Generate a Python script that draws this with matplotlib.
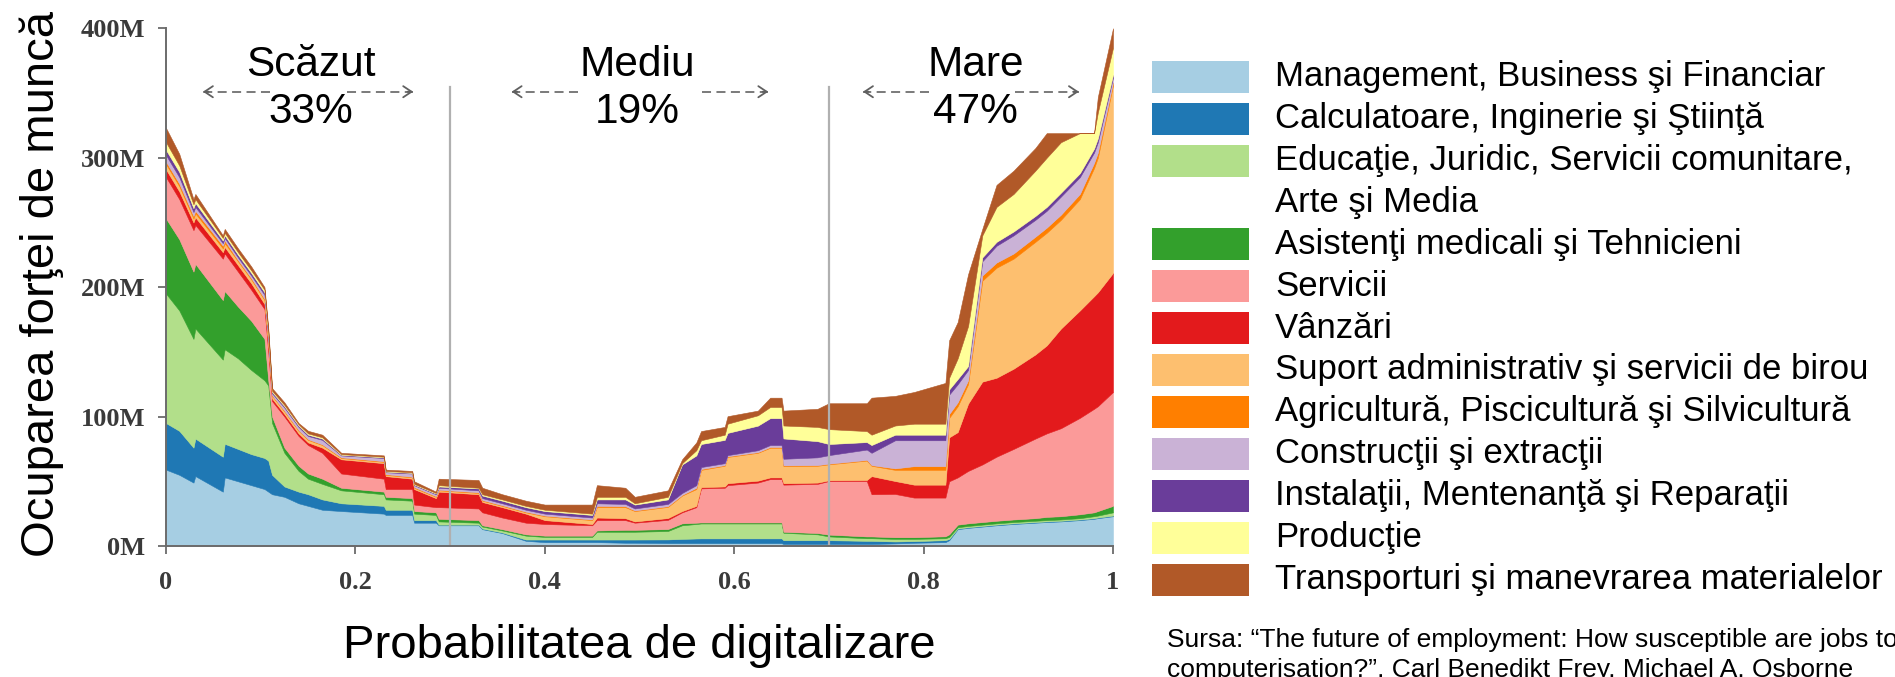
import matplotlib
matplotlib.use("Agg")
import matplotlib.pyplot as plt
from matplotlib.patches import Rectangle
import numpy as np

# ---------------- data (cumulative upper boundary of each stacked layer, in millions) ----------------
x = [0.000, 0.014, 0.029, 0.031, 0.060, 0.062, 0.076, 0.090, 0.104, 0.108, 0.112, 0.125, 0.140, 0.150,
     0.165, 0.185, 0.230, 0.232, 0.260, 0.262, 0.285, 0.288, 0.330, 0.334, 0.355, 0.380, 0.400, 0.450,
     0.455, 0.485, 0.495, 0.530, 0.545, 0.560, 0.565, 0.590, 0.593, 0.625, 0.638, 0.650, 0.652, 0.688,
     0.700, 0.740, 0.745, 0.770, 0.790, 0.823, 0.827, 0.836, 0.847, 0.862, 0.877, 0.895, 0.918, 0.930,
     0.945, 0.965, 0.980, 0.984, 1.000]

top_management = [59, 55, 49, 54, 42, 53, 50, 47, 44, 42, 40, 38, 33, 31, 28, 27, 25, 24, 24, 18, 18, 16, 16, 13,
                  10, 4, 3, 3, 3, 2.5, 2.5, 2.2, 2.2, 2.2, 2.2, 2.2, 2.2, 2.2, 2.2, 2.2, 1.6, 1.6, 1.6, 1.6, 1.6,
                  2, 2.5, 3, 4.5, 13, 14, 15, 16, 17, 18, 18.5, 19, 20, 21, 21.5, 23]
top_computer = [95, 89, 76, 83, 69, 79, 75, 71, 68, 66, 55, 46, 42, 40, 36, 33, 31, 28, 28, 20, 20, 16.5, 16.5,
                13.5, 10.5, 5, 5, 5, 5, 5, 5, 5.1, 5.5, 5.8, 5.9, 5.9, 5.9, 5.9, 5.9, 5.9, 4.5, 4.5, 4.5, 4, 4,
                3.5, 3.8, 4.5, 5.5, 13.5, 14.5, 15.5, 16.5, 17.5, 18.5, 19, 19.5, 20.5, 21.5, 22, 23.5]
top_education = [195, 182, 160, 168, 144, 152, 145, 136, 128, 124, 95, 72, 58, 52, 48, 43, 40, 36, 35, 25, 24, 19,
                 18, 15, 12, 8, 7, 7, 11, 11, 11, 11.6, 16, 17, 17.4, 17.4, 17.4, 17.4, 17.4, 17.4, 10.2, 9, 7.4,
                 6, 6, 5.5, 5.5, 6, 7, 14.5, 15.5, 16.5, 17.5, 18.5, 19.5, 20, 20.5, 21.5, 23, 23.5, 26]
top_health = [253, 237, 212, 218, 190, 197, 185, 174, 160, 128, 100, 76, 62, 56, 52, 45, 42, 38, 37, 27, 26, 21, 20,
              16, 13, 9, 8, 8, 12, 12.5, 12.5, 13.1, 17.5, 18, 18.2, 18.2, 18.2, 18.2, 18.2, 18.2, 11, 10, 8.8, 7.4,
              7.4, 6.8, 6.8, 7.5, 9, 16.5, 17.5, 18.5, 19.5, 20.5, 21.5, 22.5, 23, 24.5, 26, 27, 31]
top_service = [285, 268, 244, 248, 222, 226, 212, 198, 183, 150, 112, 100, 85, 78, 72, 56, 52, 44, 44, 32, 30, 30,
               29, 26, 22, 18, 17, 16, 20, 20, 18, 20.2, 26, 30, 44.5, 45, 47, 49, 51.7, 51.7, 47.4, 48, 50.2, 50.2,
               40, 40.2, 37.4, 37.4, 50, 53, 58, 63, 69, 75, 83, 87, 91, 99, 106, 108, 119]
top_sales = [291, 274, 250, 254, 227, 231, 217, 203, 187, 155, 114, 102, 87, 80, 76, 67, 64, 54, 52, 44, 37, 42, 40,
             34, 30, 25, 20, 17, 22, 21.5, 19, 21.6, 27, 31, 45.5, 46, 48.5, 50.5, 53, 53, 48.5, 49, 50.8, 51, 54,
             50.2, 47.4, 47.4, 84, 88, 110, 127, 130, 137, 148, 155, 168, 182, 193, 196, 211]
top_office = [295, 278, 253, 257, 230, 234, 220, 206, 190, 158, 116, 104, 89, 82, 78, 68, 65, 55, 53, 45, 38, 43,
              41, 35, 31, 26, 23, 20, 30, 30, 27, 30.2, 39, 44, 58.8, 62, 68.8, 72, 75.9, 75.9, 61.7, 62, 63.1, 66,
              62, 58.8, 58.8, 58.8, 99, 108, 125, 205, 215, 222, 235, 242, 252, 268, 292, 300, 356]
top_farming = [297, 280, 255, 259, 232, 236, 221, 207, 191, 159, 116.5, 104.5, 89.5, 82.5, 78.5, 68.5, 65.5, 55.5,
               53.5, 45.5, 38.5, 43.5, 41.5, 35.5, 31.5, 26.5, 23.5, 20.5, 31, 30.8, 27.5, 30.8, 39.5, 45, 59.5,
               62.5, 69.3, 72.5, 76.5, 76.5, 62.3, 62.5, 63.6, 66.5, 62.5, 60, 61.7, 61.7, 102, 111, 128, 209, 219,
               226, 239, 246, 256, 272, 296, 304, 358]
top_construction = [302, 285, 258, 262, 234, 238, 223, 209, 194, 162, 118, 107, 92, 85, 82, 70, 68, 57, 56, 47, 40,
                    45, 43, 37, 33, 28, 25, 22, 33, 32.5, 29, 32.5, 41, 47, 61, 64, 70.2, 74, 78, 78, 67.4, 68.5,
                    70.2, 74.5, 72, 81.7, 81.7, 81.7, 117, 125, 136, 220, 232, 240, 252, 259, 270, 285, 304, 312, 362]
top_installation = [306, 289, 261, 265, 236, 240, 225, 211, 196, 164, 119, 108, 93, 86, 83, 70.5, 68.5, 57.5, 56.5,
                    47.5, 40.5, 46, 44.5, 39, 35, 30, 27, 24, 36, 36, 32, 36, 63, 70, 78.8, 82, 87.4, 93, 98.8,
                    98.8, 83.1, 81, 78.8, 80.3, 78, 86, 86, 86, 121, 129, 139, 223, 235, 243, 255, 262, 273, 288,
                    307, 315, 364]
top_production = [312, 294, 264, 268, 238, 242, 227, 213, 198, 166, 120, 109, 94, 87, 84, 71, 69, 58, 57, 48, 41,
                  47, 45, 40, 36, 31, 28, 25, 38, 38, 33, 38, 64, 74, 81.7, 86, 94.5, 101, 107.4, 107.4, 93.1, 92,
                  90.3, 88.8, 86, 93.1, 94.5, 94.5, 130, 145, 170, 240, 262, 272, 290, 300, 312, 319, 319, 335, 385]
top_transport = [323, 303, 268, 272, 240, 245, 230, 216, 200, 168, 122, 111, 95, 89, 86, 72, 70, 59, 58, 50, 42,
                 52, 51, 45, 40, 35, 32, 32, 47, 45, 38, 43, 67, 80, 88.8, 92, 100.3, 104.6, 114.6, 114.6, 104.6,
                 106, 110.3, 110.3, 114.6, 116, 119, 126, 159, 173, 210, 245, 279, 290, 307.5, 319, 319, 319, 319,
                 347, 400]

categories = ["Management, Business şi Financiar",
              "Calculatoare, Inginerie şi Ştiinţă",
              "Educaţie, Juridic, Servicii comunitare,\nArte şi Media",
              "Asistenţi medicali şi Tehnicieni",
              "Servicii",
              "Vânzări",
              "Suport administrativ şi servicii de birou",
              "Agricultură, Piscicultură şi Silvicultură",
              "Construcţii şi extracţii",
              "Instalaţii, Mentenanţă şi Reparaţii",
              "Producţie",
              "Transporturi şi manevrarea materialelor"]
colors = ["#a6cee3", "#1f78b4", "#b2df8a", "#33a02c", "#fb9a99", "#e31a1c",
          "#fdbf6f", "#ff7f00", "#cab2d6", "#6a3d9a", "#ffff99", "#b15928"]

zone_labels = ["Scăzut", "Mediu", "Mare"]
zone_shares = ["33%", "19%", "47%"]
zone_bounds = [0.3, 0.7]
x_ticks = [0, 0.2, 0.4, 0.6, 0.8, 1]
x_tick_labels = ["0", "0.2", "0.4", "0.6", "0.8", "1"]
y_ticks = [0, 100, 200, 300, 400]
y_tick_labels = ["0M", "100M", "200M", "300M", "400M"]

# ---------------- figure ----------------
W, H = 1895, 677
fig = plt.figure(figsize=(W / 100, H / 100), dpi=100)
fig.patch.set_facecolor("white")


def fx(px):
    return px / W


def fy(py):
    return 1 - py / H


ax = fig.add_axes([fx(166), fy(546), fx(1113) - fx(166), fy(28.3) - fy(546)])

layers = [top_management, top_computer, top_education, top_health, top_service, top_sales,
          top_office, top_farming, top_construction, top_installation, top_production, top_transport]
lower = np.zeros(len(x))
for vals, col in zip(layers, colors):
    upper = np.asarray(vals, dtype=float)
    ax.fill_between(x, lower, upper, facecolor=col, edgecolor=col, linewidth=0.4, zorder=1)
    lower = upper

ax.set_xlim(0, 1)
ax.set_ylim(0, 400)
for s in ["top", "right"]:
    ax.spines[s].set_visible(False)
for s in ["left", "bottom"]:
    ax.spines[s].set_color("#6b6b6b")
    ax.spines[s].set_linewidth(1.4)
ax.set_xticks(x_ticks)
ax.set_xticklabels(x_tick_labels)
ax.set_yticks(y_ticks)
ax.set_yticklabels(y_tick_labels)
ax.tick_params(direction="out", length=6, width=1.3, color="#6b6b6b", labelcolor="#3a3a3a",
               labelsize=19)
ax.tick_params(axis="x", pad=12)
ax.tick_params(axis="y", pad=9)
for lab in ax.get_xticklabels() + ax.get_yticklabels():
    lab.set_family("Liberation Serif")
    lab.set_fontweight("bold")

# zone separators
for b in zone_bounds:
    ax.plot([b, b], [0, 355], color="#b0b0b0", lw=1.6, zorder=2)

# zone labels and arrows
zone_text_x = [0.153, 0.498, 0.855]
arrow_spans = [((0.110, 0.039), (0.191, 0.261)),
               ((0.435, 0.365), (0.566, 0.636)),
               ((0.806, 0.736), (0.897, 0.964))]
for lab, share, tx, spans in zip(zone_labels, zone_shares, zone_text_x, arrow_spans):
    ax.text(tx, 372, lab, ha="center", va="center", fontsize=30.5, family="Liberation Sans", zorder=4)
    ax.text(tx, 335, share, ha="center", va="center", fontsize=30.5, family="Liberation Sans", zorder=4)
    for tail, head in spans:
        ax.plot([tail, head], [351, 351], color="#707070", lw=1.3, ls=(0, (5, 3)), zorder=3)
        step = 0.006 if head < tail else -0.006
        ax.annotate("", xy=(head, 351), xytext=(head + step, 351),
                    arrowprops=dict(arrowstyle="->,head_length=0.6,head_width=0.4",
                                    color="#606060", lw=1.3, shrinkA=0, shrinkB=0), zorder=3)

# axis titles
fig.text(fx(639.5), fy(646), "Probabilitatea de digitalizare", ha="center", va="center",
         fontsize=34, family="Liberation Sans")
fig.text(fx(42), fy(284), "Ocuparea forţei de muncă", ha="center", va="center", rotation=90,
         fontsize=34, family="Liberation Sans")

# legend (drawn manually to match layout)
row_pitch = 41.9
row0 = 76.7
legend_rows = []
k = 0
for name, col in zip(categories, colors):
    lines = name.split("\n")
    legend_rows.append((k, lines[0], col))
    for extra in lines[1:]:
        k += 1
        legend_rows.append((k, extra, None))
    k += 1
for kk, txt, col in legend_rows:
    cy = row0 + row_pitch * kk
    if col is not None:
        fig.patches.append(Rectangle((fx(1152), fy(cy + 16)), fx(1249) - fx(1152), 32 / H,
                                     transform=fig.transFigure, facecolor=col, edgecolor="none"))
    fig.text(fx(1275), fy(cy), txt, ha="left", va="center", fontsize=25, family="Liberation Sans")

# source
fig.text(fx(1167), fy(647), "Sursa: \u201cThe future of employment: How susceptible are jobs to",
         ha="left", va="baseline", fontsize=19, family="Liberation Sans")
fig.text(fx(1167), fy(677), "computerisation?\u201d, Carl Benedikt Frey, Michael A. Osborne",
         ha="left", va="baseline", fontsize=19, family="Liberation Sans")

fig.savefig("out.png", dpi=100, facecolor="white")
